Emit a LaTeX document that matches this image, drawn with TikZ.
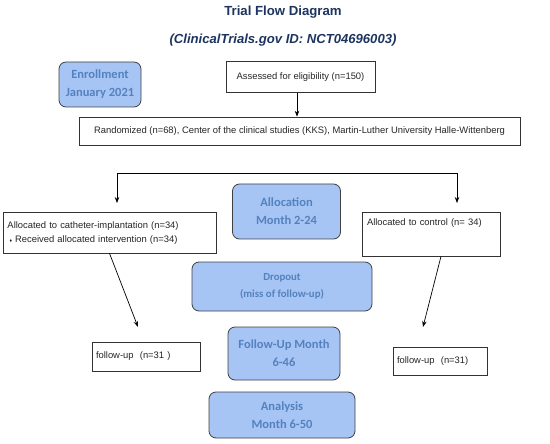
\documentclass[tikz,border=0pt]{standalone}
\usepackage{fontspec}
\setmainfont{Liberation Sans}
\newfontfamily\carl{Carlito}
\usetikzlibrary{arrows.meta}
\definecolor{blueF}{RGB}{166,196,244}
\definecolor{blueT}{RGB}{84,130,190}
\definecolor{navy}{RGB}{28,52,95}
\begin{document}
\begin{tikzpicture}[x=1pt,y=-1pt,
  wbox/.style={draw=black!80, fill=white, line width=0.7pt, inner sep=0pt,
    text=black!85, font=\fontsize{9.4}{14}\selectfont},
  bbox/.style={draw=black!75, fill=blueF, rounded corners=7pt, line width=0.8pt,
    text=blueT, font=\carl\bfseries\fontsize{12.5}{18}\selectfont, align=center, inner sep=0pt},
  arr/.style={-{Stealth[length=6pt,width=4.5pt]}, line width=0.7pt, black}]
\useasboundingbox (0,0) rectangle (550,444);

\node[text=navy, font=\bfseries\fontsize{13.2}{15}\selectfont] (title) at (283,12) {Trial Flow Diagram};
\node[text=navy, font=\bfseries\itshape\fontsize{13.1}{15}\selectfont] (sub) at (283,40) {(ClinicalTrials.gov ID: NCT04696003)};

\node[bbox, minimum width=82pt, minimum height=45pt] (enr) at (100,84.5) {Enrollment\\January 2021};
\node[wbox, minimum width=149pt, minimum height=31pt] (assess) at (300.5,77) {Assessed for eligibility (n=150)};
\node[wbox, minimum width=441pt, minimum height=28pt] (rand) at (299.5,131) {Randomized (n=68), Center of the clinical studies (KKS), Martin-Luther University Halle-Wittenberg};

\node[bbox, minimum width=108pt, minimum height=55pt] (alloc) at (286.5,211.5) {Allocation\\Month 2-24};

\node[wbox, minimum width=213pt, minimum height=41pt, align=left, text width=204pt, text depth=14pt] (al) at (109.5,232.5)
  {Allocated to catheter-implantation (n=34)\\\hspace*{2pt}{\fontsize{5}{6}\selectfont\raisebox{0.8pt}{♦}} Received allocated intervention (n=34)};
\node[wbox, minimum width=138pt, minimum height=44pt, align=left, text width=128pt, text depth=24pt] (ar) at (431,234)
  {Allocated to control (n= 34)};

\node[bbox, font=\carl\bfseries\fontsize{10.8}{17}\selectfont, minimum width=180pt, minimum height=49pt] (drop) at (282,286.5) {Dropout\\(miss of follow-up)};

\node[bbox, minimum width=112pt, minimum height=53pt] (fu) at (284,353.5) {Follow-Up Month\\6-46};
\node[wbox, minimum width=108pt, minimum height=29pt, align=left, text width=100pt] (ful) at (146,356.5) {follow-up\ \ (n=31 )};
\node[wbox, minimum width=94pt, minimum height=28pt, align=left, text width=86pt] (fur) at (440,361) {follow-up\ \ (n=31)};

\node[bbox, minimum width=146pt, minimum height=46pt] (ana) at (282,415) {Analysis\\Month 6-50};

\draw[arr] ([xshift=-3.5pt]assess.south) -- ([xshift=-3.5pt]assess.south |- rand.north);

\coordinate (bl) at (117,173);
\coordinate (br) at (457,173);
\coordinate (blt) at (117,203);
\coordinate (brt) at (457,203);
\draw[line width=0.7pt] (bl) -- (br);
\draw[arr] (bl) -- (blt);
\draw[arr] (br) -- (brt);

\coordinate (lt) at (138,327);
\coordinate (rt) at (423,327);
\draw[arr] (al.south) -- (lt);
\draw[arr] ([xshift=10pt]ar.south) -- (rt);
\end{tikzpicture}
\end{document}
